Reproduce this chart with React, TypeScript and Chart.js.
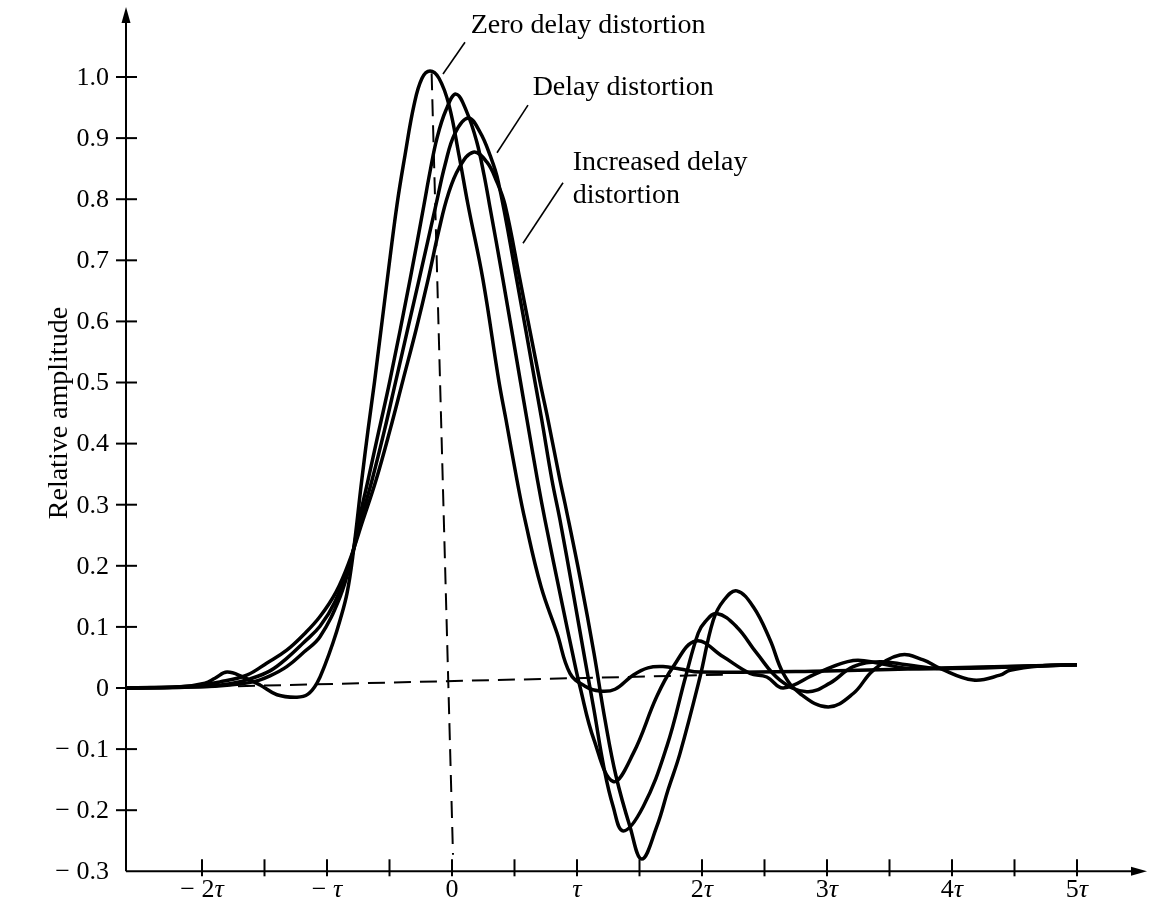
import React, { useEffect, useRef } from "react";
import { Chart, registerables } from "chart.js";

Chart.register(...registerables);

// ---- Data (time in units of tau, relative amplitude) ----
const zeroDelayT = [-2.6, -2.176, -1.976, -1.896, -1.8, -1.672, -1.536, -1.4, -1.24, -1.152, -1.08, -1.016, -0.952, -0.896, -0.84, -0.792, -0.722, -0.672, -0.62, -0.518, -0.44, -0.376, -0.304, -0.24, -0.176, -0.104, -0.024, 0.056, 0.128, 0.248, 0.376, 0.432, 0.52, 0.584, 0.712, 0.84, 0.944, 1.064, 1.184, 1.304, 1.448, 1.568, 1.688, 1.824, 1.984, 3.0, 4.0, 5.0];
const zeroDelayV = [0, 0.002, 0.008, 0.016, 0.026, 0.018, 0.005, -0.011, -0.015, -0.01, 0.008, 0.038, 0.074, 0.111, 0.155, 0.218, 0.34, 0.422, 0.501, 0.668, 0.791, 0.872, 0.954, 0.998, 1.01, 0.998, 0.954, 0.872, 0.791, 0.668, 0.501, 0.439, 0.34, 0.275, 0.166, 0.09, 0.024, 0.003, -0.005, -0.002, 0.021, 0.033, 0.035, 0.031, 0.026, 0.028, 0.033, 0.038];

const delayT = [-2.6, -2.016, -1.776, -1.592, -1.456, -1.322, -1.184, -1.056, -0.896, -0.808, -0.744, -0.672, -0.584, -0.496, -0.336, -0.224, -0.176, -0.12, -0.048, 0.032, 0.118, 0.198, 0.256, 0.3, 0.408, 0.548, 0.6, 0.684, 0.744, 0.88, 0.964, 1.024, 1.136, 1.29, 1.45, 1.638, 1.77, 1.952, 2.17, 2.384, 2.518, 2.65, 2.918, 3.21, 3.424, 3.664, 4.3, 5.0];
const delayV = [0, 0.002, 0.005, 0.01, 0.02, 0.035, 0.059, 0.084, 0.149, 0.209, 0.275, 0.34, 0.422, 0.504, 0.668, 0.791, 0.845, 0.9, 0.946, 0.972, 0.943, 0.894, 0.84, 0.791, 0.668, 0.501, 0.439, 0.34, 0.275, 0.139, 0.057, 0.002, -0.085, -0.153, -0.107, -0.014, 0.035, 0.077, 0.051, 0.024, 0.018, 0.0, 0.024, 0.045, 0.04, 0.032, 0.034, 0.038];

const moreDelayT = [-2.6, -2.016, -1.776, -1.616, -1.456, -1.32, -1.184, -1.056, -0.936, -0.816, -0.728, -0.64, -0.54, -0.448, -0.356, -0.264, -0.128, -0.056, 0.024, 0.13, 0.224, 0.304, 0.37, 0.518, 0.664, 0.718, 0.8, 0.864, 0.97, 1.064, 1.136, 1.216, 1.288, 1.37, 1.53, 1.718, 1.872, 1.97, 2.024, 2.118, 2.278, 2.438, 2.624, 2.838, 3.024, 3.21, 3.424, 3.638, 3.904, 5.0];
const moreDelayV = [0, 0.002, 0.007, 0.015, 0.028, 0.049, 0.075, 0.101, 0.141, 0.206, 0.275, 0.34, 0.422, 0.504, 0.586, 0.668, 0.791, 0.856, 0.908, 0.933, 0.91, 0.872, 0.829, 0.668, 0.501, 0.439, 0.34, 0.275, 0.155, 0.046, -0.036, -0.131, -0.193, -0.234, -0.194, -0.096, 0.021, 0.09, 0.108, 0.122, 0.1, 0.057, 0.013, -0.006, 0.008, 0.035, 0.043, 0.038, 0.032, 0.038];

const increasedDelayT = [-2.6, -2.096, -1.856, -1.642, -1.48, -1.322, -1.184, -1.056, -0.928, -0.824, -0.712, -0.608, -0.496, -0.392, -0.288, -0.192, -0.104, -0.032, 0.056, 0.17, 0.278, 0.358, 0.424, 0.544, 0.704, 0.768, 0.864, 0.904, 1.028, 1.136, 1.224, 1.312, 1.424, 1.518, 1.638, 1.728, 1.824, 1.984, 2.09, 2.176, 2.278, 2.41, 2.544, 2.65, 2.784, 3.01, 3.21, 3.37, 3.584, 3.77, 3.904, 4.17, 4.384, 4.464, 4.704, 5.0];
const increasedDelayV = [0, 0.003, 0.01, 0.021, 0.041, 0.062, 0.088, 0.117, 0.157, 0.206, 0.275, 0.34, 0.422, 0.504, 0.586, 0.668, 0.75, 0.807, 0.851, 0.877, 0.861, 0.829, 0.791, 0.668, 0.501, 0.439, 0.34, 0.302, 0.177, 0.057, -0.052, -0.144, -0.227, -0.28, -0.227, -0.167, -0.107, 0.018, 0.111, 0.144, 0.159, 0.133, 0.079, 0.024, -0.009, -0.031, -0.009, 0.029, 0.054, 0.046, 0.032, 0.013, 0.021, 0.029, 0.036, 0.038];

// dashed reference lines
const refHorizT = [-1.712, 2.2];
const refHorizV = [0.003, 0.022];
const refVertT = [-0.163, 0.008];
const refVertV = [1.006, -0.273];

// annotation leader lines
const leaderZeroT = [-0.072, 0.104];
const leaderZeroV = [1.005, 1.057];
const leaderDelayT = [0.36, 0.608];
const leaderDelayV = [0.876, 0.954];
const leaderIncT = [0.568, 0.888];
const leaderIncV = [0.728, 0.827];

// annotation texts
const noteTexts = ["Zero delay distortion", "Delay distortion", "Increased delay", "distortion"];
const noteT = [0.15, 0.645, 0.965, 0.965];
const noteV = [1.072, 0.9705, 0.848, 0.793];

// axis ticks
const yTickValues = [1.0, 0.9, 0.8, 0.7, 0.6, 0.5, 0.4, 0.3, 0.2, 0.1, 0, -0.1, -0.2, -0.3];
const yTickLabels = ["1.0", "0.9", "0.8", "0.7", "0.6", "0.5", "0.4", "0.3", "0.2", "0.1", "0", "\u2212 0.1", "\u2212 0.2", "\u2212 0.3"];
const xTickMarks = [-2, -1.5, -1, -0.5, 0, 0.5, 1, 1.5, 2, 2.5, 3, 3.5, 4, 4.5, 5];
const xLabelValues = [-2, -1, 0, 1, 2, 3, 4, 5];
const xLabelTexts = ["\u2212 2\u03c4", "\u2212 \u03c4", "0", "\u03c4", "2\u03c4", "3\u03c4", "4\u03c4", "5\u03c4"];
const yAxisTitle = "Relative amplitude";

const SERIF = "'Liberation Serif', 'Times New Roman', serif";

const toPoints = (ts: number[], vs: number[]) => ts.map((t, i) => ({ x: t, y: vs[i] }));

function drawTauLabel(ctx: CanvasRenderingContext2D, label: string, cx: number, cy: number, size: number) {
  const idx = label.indexOf("\u03c4");
  const pre = idx >= 0 ? label.slice(0, idx) : label;
  const hasTau = idx >= 0;
  ctx.font = `${size}px ${SERIF}`;
  const w1 = ctx.measureText(pre).width;
  ctx.font = `italic ${size}px ${SERIF}`;
  const w2 = hasTau ? ctx.measureText("\u03c4").width : 0;
  const x = cx - (w1 + w2) / 2;
  ctx.textAlign = "left";
  ctx.textBaseline = "middle";
  ctx.font = `${size}px ${SERIF}`;
  ctx.fillText(pre, x, cy);
  if (hasTau) {
    ctx.font = `italic ${size}px ${SERIF}`;
    ctx.fillText("\u03c4", x + w1, cy);
  }
}

const axesPlugin = {
  id: "textbookAxes",
  afterDatasetsDraw(chart: any) {
    const { ctx, chartArea, scales } = chart;
    const xs = scales.x;
    const ys = scales.y;
    const x0 = chartArea.left;
    const yb = chartArea.bottom;
    ctx.save();
    ctx.strokeStyle = "#000";
    ctx.fillStyle = "#000";
    ctx.lineWidth = 2;
    ctx.lineCap = "butt";

    // y axis with arrow
    ctx.beginPath();
    ctx.moveTo(x0, yb);
    ctx.lineTo(x0, chartArea.top + 10);
    ctx.stroke();
    ctx.beginPath();
    ctx.moveTo(x0, chartArea.top);
    ctx.lineTo(x0 - 4.5, chartArea.top + 16);
    ctx.lineTo(x0 + 4.5, chartArea.top + 16);
    ctx.closePath();
    ctx.fill();

    // x axis with arrow
    const xr = chartArea.right;
    ctx.beginPath();
    ctx.moveTo(x0, yb);
    ctx.lineTo(xr - 10, yb);
    ctx.stroke();
    ctx.beginPath();
    ctx.moveTo(xr, yb);
    ctx.lineTo(xr - 16, yb - 4.5);
    ctx.lineTo(xr - 16, yb + 4.5);
    ctx.closePath();
    ctx.fill();

    // y ticks and labels
    yTickValues.forEach((v, i) => {
      const py = ys.getPixelForValue(v);
      if (v > -0.3) {
        ctx.beginPath();
        ctx.moveTo(x0 - 10, py);
        ctx.lineTo(x0 + 11, py);
        ctx.stroke();
      }
      ctx.font = `26px ${SERIF}`;
      ctx.textAlign = "right";
      ctx.textBaseline = "middle";
      ctx.fillText(yTickLabels[i], x0 - 17, py + 1);
    });

    // x ticks
    xTickMarks.forEach((t) => {
      const px = xs.getPixelForValue(t);
      ctx.beginPath();
      ctx.moveTo(px, yb - 12);
      ctx.lineTo(px, yb + 5);
      ctx.stroke();
    });
    xLabelValues.forEach((t, i) => {
      const px = xs.getPixelForValue(t);
      drawTauLabel(ctx, xLabelTexts[i], px, yb + 19, 26);
    });

    // y-axis title
    ctx.save();
    ctx.translate(60, ys.getPixelForValue(0.45));
    ctx.rotate(-Math.PI / 2);
    ctx.font = `28px ${SERIF}`;
    ctx.textAlign = "center";
    ctx.textBaseline = "middle";
    ctx.fillText(yAxisTitle, 0, 0);
    ctx.restore();

    // annotations
    ctx.font = `28px ${SERIF}`;
    ctx.textAlign = "left";
    ctx.textBaseline = "alphabetic";
    noteTexts.forEach((txt, i) => {
      ctx.fillText(txt, xs.getPixelForValue(noteT[i]), ys.getPixelForValue(noteV[i]));
    });
    ctx.restore();
  },
};

export default function App() {
  const canvasRef = useRef<HTMLCanvasElement | null>(null);

  useEffect(() => {
    const canvas = canvasRef.current;
    if (!canvas) return;
    const curve = (label: string, ts: number[], vs: number[]) => ({
      label,
      data: toPoints(ts, vs),
      borderColor: "#000",
      borderWidth: 3.5,
      pointRadius: 0,
      fill: false,
      tension: 0.4,
      borderJoinStyle: "round" as const,
    });
    const straight = (label: string, ts: number[], vs: number[], width: number, dash: number[]) => ({
      label,
      data: toPoints(ts, vs),
      borderColor: "#000",
      borderWidth: width,
      borderDash: dash,
      pointRadius: 0,
      fill: false,
      tension: 0,
    });

    const chart = new Chart(canvas, {
      type: "line",
      data: {
        datasets: [
          straight("zero reference", refHorizT, refHorizV, 2, [17, 9]),
          straight("peak reference", refVertT, refVertV, 2, [17, 9]),
          curve("Zero delay distortion", zeroDelayT, zeroDelayV),
          curve("Delay distortion", delayT, delayV),
          curve("Larger delay distortion", moreDelayT, moreDelayV),
          curve("Increased delay distortion", increasedDelayT, increasedDelayV),
          straight("leader zero", leaderZeroT, leaderZeroV, 1.6, []),
          straight("leader delay", leaderDelayT, leaderDelayV, 1.6, []),
          straight("leader increased", leaderIncT, leaderIncV, 1.6, []),
        ] as any,
      },
      options: {
        animation: false,
        responsive: true,
        maintainAspectRatio: false,
        events: [],
        layout: { padding: { left: 126, right: 2, top: 7, bottom: 36.7 } },
        plugins: {
          legend: { display: false },
          tooltip: { enabled: false },
          title: { display: false },
        },
        scales: {
          x: { type: "linear", min: -2.608, max: 5.56, display: false },
          y: { type: "linear", min: -0.3, max: 1.1146, display: false },
        },
      },
      plugins: [axesPlugin],
    });
    return () => chart.destroy();
  }, []);

  return (
    <div style={{ position: "absolute", left: 0, top: 0, width: 1149, height: 908, background: "#fff" }}>
      <canvas ref={canvasRef} />
    </div>
  );
}
